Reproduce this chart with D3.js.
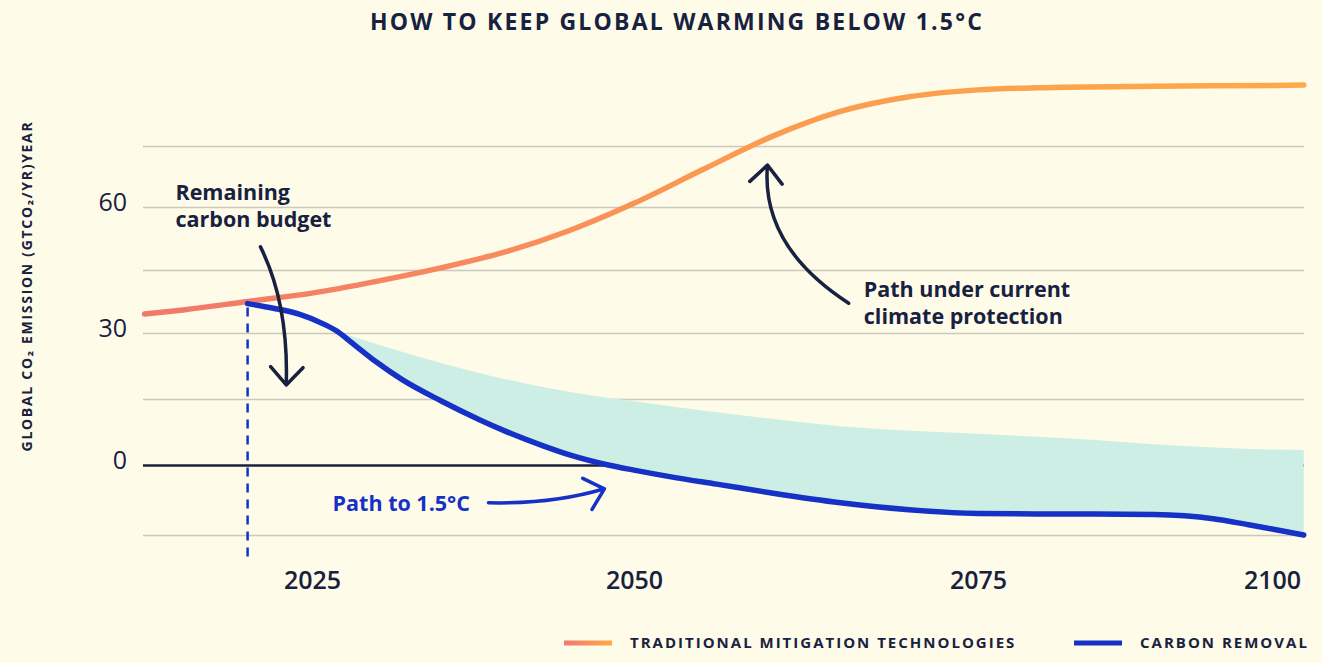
<!DOCTYPE html>
<html>
<head>
<meta charset="utf-8">
<script src="https://cdn.jsdelivr.net/npm/d3@7"></script>
<style>
  body { margin: 0; background: #fefbe9; }
  svg { display: block; font-family: "Open Sans", sans-serif; }
</style>
</head>
<body>
<div id="chart"></div>
<script>
// values, GtCO2 per year
const xTickYears = [2025, 2050, 2075, 2100];
const yTickLabels = [0, 30, 60];
const gridValues = [-15, 0, 15, 30, 45, 60, 75];

const traditionalYears  = [2012, 2015, 2020, 2025, 2030, 2035, 2040, 2045, 2050, 2055, 2060, 2065, 2070, 2075, 2080, 2090, 2100, 2102.7];
const traditionalValues = [34.5, 35.5, 37.5, 39.5, 42.3, 45.5, 49.3, 54.4, 60.9, 69.2, 77.3, 83.5, 87.1, 88.8, 89.3, 89.7, 89.9, 90.0];

const removalYears  = [2020, 2022, 2024, 2026, 2027, 2028, 2030, 2032, 2035, 2038, 2040, 2043, 2045, 2048, 2050, 2053, 2056, 2060, 2065, 2070, 2075, 2080, 2085, 2090, 2095, 2098, 2100, 2102.7];
const removalValues = [37.0, 35.9, 34.5, 32.0, 30.3, 28.0, 23.4, 19.4, 14.6, 10.3, 7.7, 4.3, 2.3, 0.0, -1.1, -2.7, -4.1, -6.0, -8.1, -9.6, -10.4, -10.5, -10.5, -10.6, -11.5, -12.8, -13.7, -15.0];

// upper edge of the shaded gap
const gapYears  = [2027, 2030, 2035, 2040, 2045, 2050, 2055, 2060, 2065, 2070, 2075, 2080, 2085, 2090, 2095, 2100, 2102.7];
const gapValues = [30.3, 27.5, 23.2, 19.5, 16.6, 14.5, 12.4, 10.5, 8.8, 7.8, 7.1, 6.4, 5.7, 4.7, 4.0, 3.5, 3.4];

const budgetYear = 2020;

const width = 1322, height = 663;
const plotLeft = 143, plotRight = 1304;
const navy = "#18213f", blue = "#1531c6";

const svg = d3.select("#chart")
  .append("svg")
    .attr("width", width)
    .attr("height", height);

// the picture's axis is not evenly spaced, so use piecewise scales
const x = d3.scaleLinear()
  .domain(xTickYears)
  .range([312, 634, 978, 1272]);

const y = d3.scaleLinear()
  .domain([-15, 0, 30, 60, 75])
  .range([535, 465, 333, 207, 146]);

const traditional = traditionalYears.map((d, i) => [d, traditionalValues[i]]);
const removal = removalYears.map((d, i) => [d, removalValues[i]]);
const gap = gapYears.map((d, i) => [d, gapValues[i]]);

const line = d3.line()
  .x(d => x(d[0]))
  .y(d => y(d[1]))
  .curve(d3.curveMonotoneX);

// gradients for the warm line and its legend swatch
const defs = svg.append("defs");
const warm = defs.append("linearGradient")
  .attr("id", "warm")
  .attr("gradientUnits", "userSpaceOnUse")
  .attr("x1", plotLeft).attr("x2", plotRight)
  .attr("y1", 0).attr("y2", 0);
warm.append("stop").attr("offset", 0).attr("stop-color", "#f2786c");
warm.append("stop").attr("offset", 0.3).attr("stop-color", "#f78b5d");
warm.append("stop").attr("offset", 0.5).attr("stop-color", "#fb9a51");
warm.append("stop").attr("offset", 1).attr("stop-color", "#fdaa48");
const warmSwatch = defs.append("linearGradient").attr("id", "warmSwatch");
warmSwatch.append("stop").attr("offset", 0).attr("stop-color", "#f2786c");
warmSwatch.append("stop").attr("offset", 1).attr("stop-color", "#fdaa48");

// title
svg.append("text")
  .attr("x", 677)
  .attr("y", 30)
  .attr("text-anchor", "middle")
  .style("font-size", "23px")
  .style("font-weight", 700)
  .style("letter-spacing", "2.2px")
  .style("fill", navy)
  .text("HOW TO KEEP GLOBAL WARMING BELOW 1.5°C");

// y axis title
svg.append("text")
  .attr("transform", "translate(26,286) rotate(-90)")
  .attr("text-anchor", "middle")
  .attr("dominant-baseline", "central")
  .style("font-size", "14px")
  .style("font-weight", 700)
  .style("letter-spacing", "1.7px")
  .style("fill", navy)
  .text("GLOBAL CO₂ EMISSION (GTCO₂/YR)YEAR");

// gridlines
svg.append("g")
  .attr("transform", `translate(${plotLeft},0)`)
  .call(d3.axisLeft(y).tickValues(gridValues).tickSize(-(plotRight - plotLeft)).tickFormat(""))
  .call(g => g.select(".domain").remove())
  .call(g => g.selectAll(".tick line")
    .attr("stroke", d => d === 0 ? navy : "#cbc8bd")
    .attr("stroke-width", d => d === 0 ? 2.5 : 1.5));

// y tick labels
svg.append("g")
  .attr("transform", "translate(127,0)")
  .call(d3.axisLeft(y).tickValues(yTickLabels).tickSize(0).tickPadding(0))
  .call(g => g.select(".domain").remove())
  .call(g => g.selectAll("text")
    .attr("dy", "0.15em")
    .style("font-family", "'Open Sans', sans-serif")
    .style("font-size", "25px")
    .style("font-weight", 500)
    .style("fill", navy));

// x tick labels
svg.append("g")
  .attr("transform", "translate(0,565)")
  .call(d3.axisBottom(x).tickValues(xTickYears).tickSize(0).tickPadding(0).tickFormat(d3.format("d")))
  .call(g => g.select(".domain").remove())
  .call(g => g.selectAll("text")
    .attr("dy", "0.95em")
    .style("font-family", "'Open Sans', sans-serif")
    .style("font-size", "25px")
    .style("font-weight", 600)
    .style("fill", navy));

// shaded gap between the upper edge and the carbon removal path
const gapTop = line(gap);
const gapBottom = line(removal.filter(d => d[0] >= gapYears[0]).reverse());
svg.append("path")
  .attr("d", gapTop + "L" + gapBottom.slice(1) + "Z")
  .style("fill", "#cdeee5");

// start of the remaining budget
svg.append("line")
  .attr("x1", x(budgetYear)).attr("x2", x(budgetYear))
  .attr("y1", y(removalValues[0]) + 4)
  .attr("y2", 560)
  .style("stroke", blue)
  .style("stroke-width", 2.5)
  .style("stroke-dasharray", "9,7");

// lines
svg.append("path")
  .attr("d", line(traditional))
  .style("fill", "none")
  .style("stroke", "url(#warm)")
  .style("stroke-width", 5.5)
  .style("stroke-linecap", "round");

svg.append("path")
  .attr("d", line(removal))
  .style("fill", "none")
  .style("stroke", blue)
  .style("stroke-width", 5.5)
  .style("stroke-linecap", "round");

// curved annotation arrows: start, control, tip in data units
function arrow(pts, color) {
  const [p0, c, p2] = pts.map(p => [x(p[0]), y(p[1])]);
  const p = d3.path();
  p.moveTo(p0[0], p0[1]);
  p.quadraticCurveTo(c[0], c[1], p2[0], p2[1]);
  const back = Math.atan2(c[1] - p2[1], c[0] - p2[0]);
  const len = 24, spread = 0.74;
  p.moveTo(p2[0] + len * Math.cos(back - spread), p2[1] + len * Math.sin(back - spread));
  p.lineTo(p2[0], p2[1]);
  p.lineTo(p2[0] + len * Math.cos(back + spread), p2[1] + len * Math.sin(back + spread));
  svg.append("path")
    .attr("d", p.toString())
    .style("fill", "none")
    .style("stroke", color)
    .style("stroke-width", 3.5)
    .style("stroke-linecap", "round")
    .style("stroke-linejoin", "round");
}

arrow([[2021.0, 50.5], [2023.2, 36.9], [2023.0, 18.2]], navy);
arrow([[2065.6, 37.1], [2059.2, 50.7], [2059.7, 70.3]], navy);
arrow([[2038.7, -8.1], [2043.7, -8.4], [2047.7, -5.1]], blue);

function note(year, value, lines, color) {
  const t = svg.append("text")
    .attr("x", x(year))
    .attr("y", y(value))
    .style("font-size", "21.5px")
    .style("font-weight", 700)
    .style("fill", color);
  lines.forEach((s, i) => {
    t.append("tspan")
      .attr("x", x(year))
      .attr("dy", i === 0 ? 0 : 27)
      .text(s);
  });
}

note(2014.4, 61.7, ["Remaining", "carbon budget"], navy);
note(2066.7, 38.6, ["Path under current", "climate protection"], navy);
note(2026.6, -9.9, ["Path to 1.5°C"], blue);

// legend
const legend = [
  {label: "TRADITIONAL MITIGATION TECHNOLOGIES", color: "url(#warmSwatch)", x: 564},
  {label: "CARBON REMOVAL", color: blue, x: 1074}
];
const lg = svg.append("g").selectAll("g")
  .data(legend)
  .join("g")
    .attr("transform", d => `translate(${d.x},643)`);
lg.append("rect")
  .attr("y", -2.5)
  .attr("width", 48)
  .attr("height", 5)
  .style("fill", d => d.color);
lg.append("text")
  .attr("x", 66)
  .attr("dy", "0.36em")
  .style("font-size", "15px")
  .style("font-weight", 700)
  .style("letter-spacing", "2px")
  .style("fill", navy)
  .text(d => d.label);
</script>
</body>
</html>
